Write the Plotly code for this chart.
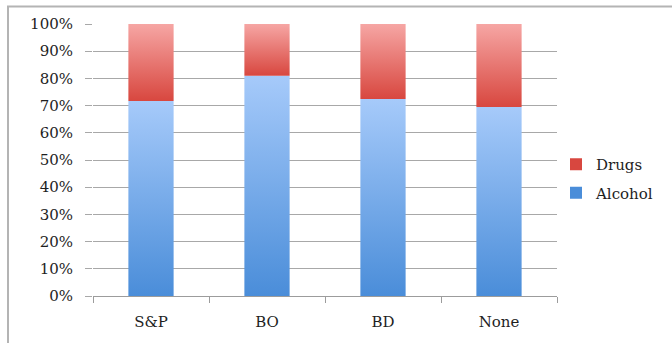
import plotly.graph_objects as go

# Share of cases by substance for each group
categories = ["S&P", "BO", "BD", "None"]
alcohol = [0.717, 0.81, 0.724, 0.695]
drugs = [round(1 - a, 3) for a in alcohol]

W, H = 672, 343
ML, MR, MT, MB = 93, 115, 24, 47
PW, PH = W - ML - MR, H - MT - MB
FONT = "DejaVu Serif"
BAR_W = 0.39

series = [
    ("Alcohol", "#4a8dd9", "#a6cafa"),
    ("Drugs", "#d8473f", "#f6a6a4"),
]

fig = go.Figure()

# Stacked segments drawn as filled polygons so each one carries a vertical gradient
for i, cat in enumerate(categories):
    base = 0.0
    for (name, c_bot, c_top), vals in zip(series, (alcohol, drugs)):
        y0, y1 = base, base + vals[i]
        x0, x1 = i - BAR_W / 2, i + BAR_W / 2
        fig.add_trace(go.Scatter(
            x=[x0, x1, x1, x0, x0],
            y=[y0, y0, y1, y1, y0],
            mode="none",
            fill="toself",
            fillgradient=dict(type="vertical", start=y0, stop=y1,
                              colorscale=[[0, c_bot], [1, c_top]]),
            showlegend=False,
            hoverinfo="skip",
        ))
        base = y1

# Legend keys (Drugs listed first)
for name, c_bot, c_top in reversed(series):
    fig.add_trace(go.Bar(x=[None], y=[None], name=name, legendgroup=name,
                         marker=dict(color=c_bot, line=dict(width=0))))

def px_x(px):
    return (px - ML) / PW

def px_y(py):
    return (H - MB - py) / PH

frame = dict(type="line", xref="paper", yref="paper",
             line=dict(color="#b4b4b4", width=2), layer="above")
fig.add_shape(**frame, x0=px_x(8), x1=px_x(8), y0=px_y(6.5), y1=px_y(H + 5))
fig.add_shape(**frame, x0=px_x(7), x1=px_x(W + 5), y0=px_y(6.5), y1=px_y(6.5))

fig.update_layout(
    width=W, height=H,
    margin=dict(l=ML, r=MR, t=MT, b=MB, pad=0, autoexpand=False),
    paper_bgcolor="white", plot_bgcolor="white",
    font=dict(family=FONT, size=15, color="#1e1e1e"),
    showlegend=True,
    legend=dict(xref="container", yref="container",
                x=556 / W, y=1 - 148 / H, xanchor="left", yanchor="top",
                font=dict(family=FONT, size=15, color="#1e1e1e"),
                itemwidth=30, tracegroupgap=6, bgcolor="rgba(0,0,0,0)"),
    xaxis=dict(
        range=[-0.5, len(categories) - 0.5],
        tickmode="array", tickvals=list(range(len(categories))),
        ticktext=categories, ticks="", ticklabelstandoff=12,
        showgrid=False, zeroline=False,
        showline=True, linecolor="#9c9c9c", linewidth=1,
        minor=dict(tick0=-0.5, dtick=1, ticks="outside", ticklen=6,
                   tickcolor="#9c9c9c", showgrid=False),
        fixedrange=True,
    ),
    yaxis=dict(
        range=[0, 1], tickmode="linear", tick0=0, dtick=0.1,
        tickformat=".0%", ticks="outside", ticklen=7, tickcolor="#a8a8a8",
        ticklabelstandoff=9,
        showgrid=True, gridcolor="#a8a8a8", gridwidth=1,
        zeroline=False, showline=False, fixedrange=True,
    ),
)

fig.write_html("out.html")
